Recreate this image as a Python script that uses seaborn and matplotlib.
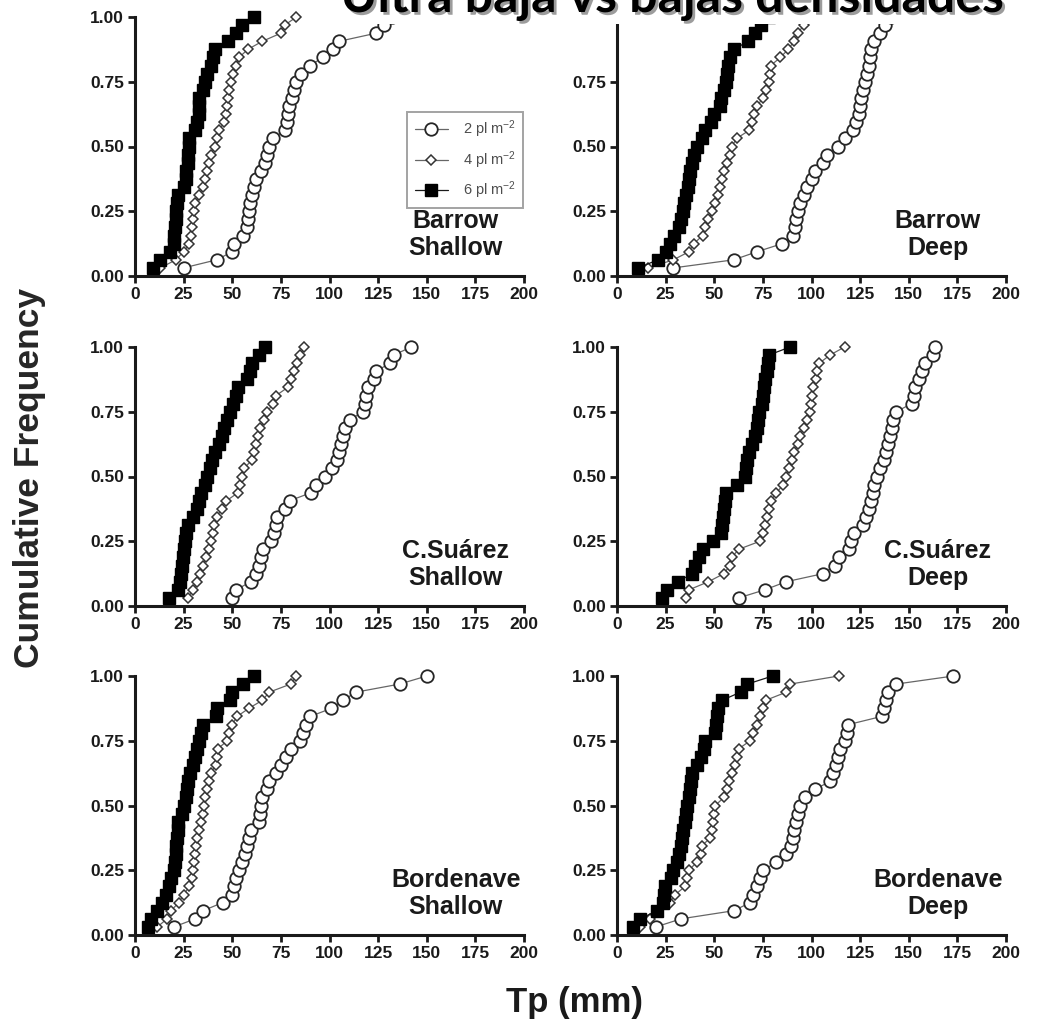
import numpy as np
import pandas as pd
import matplotlib
matplotlib.use("Agg")
import matplotlib.pyplot as plt
import matplotlib.patheffects as pe
from matplotlib.patches import Rectangle
import seaborn as sns

sns.set_theme(style="ticks")
plt.rcParams['font.family'] = ['Liberation Sans', 'DejaVu Sans']
plt.rcParams['font.weight'] = 'bold'
plt.rcParams['mathtext.fontset'] = 'custom'
plt.rcParams['mathtext.rm'] = 'Liberation Sans'
plt.rcParams['mathtext.default'] = 'regular'

densities = ['2 pl m$^{-2}$', '4 pl m$^{-2}$', '6 pl m$^{-2}$']
panels = ['Barrow\nShallow', 'Barrow\nDeep',
          'C.Suárez\nShallow', 'C.Suárez\nDeep',
          'Bordenave\nShallow', 'Bordenave\nDeep']

# Tp (mm) of each plant (sorted)
barrow_shallow_2 = [25, 42, 50, 51, 55.5, 57.5, 58, 58.5, 59, 60, 61, 62, 65, 67, 68, 69, 71, 77, 78, 78.5,
                    79, 80.5, 81.5, 83, 85.5, 90, 96.5, 102, 105, 124, 128, 132]
barrow_shallow_4 = [13, 21, 25, 28, 29, 29.5, 30, 30.5, 31, 33, 35, 36, 37, 38, 39, 41, 42, 43, 46, 47,
                    47.5, 48, 48.5, 49.5, 50.5, 52, 53.5, 58, 65.5, 75, 77, 83]
barrow_shallow_6 = [9, 13, 18, 20, 20, 20.5, 21, 21, 21.5, 22, 25, 26, 26, 27, 27, 28, 28, 31, 32, 33,
                    33, 33, 35, 36, 37, 39, 40, 41, 48, 52, 55, 61]

barrow_deep_2 = [29, 60, 72, 85, 90.5, 91.5, 92, 93, 94, 96, 97.5, 100, 102, 106, 108, 113.5, 117, 121.5,
                 123, 124.5, 125, 125.5, 126.5, 127.5, 128.5, 129.5, 130, 130.5, 132, 135, 138, 141]
barrow_deep_4 = [16, 29, 37, 39.5, 44, 45.5, 47, 49, 50.5, 52, 53, 54, 55, 56.5, 58, 59, 61.5, 68, 69.5,
                 70.5, 72, 75, 76.5, 78, 78.5, 79, 84, 88, 91, 93, 96, 99]
barrow_deep_6 = [11, 21, 25, 27, 29.5, 32, 33, 34, 34.5, 35.5, 36.5, 37, 37.5, 38.5, 39.5, 41, 43.5, 45,
                 48.5, 50, 53, 53.5, 55, 56, 56.5, 57, 58, 60, 67.5, 71, 74, 78]

suarez_shallow_2 = [50, 52, 59.5, 62, 64, 65, 66, 70, 71.5, 72.5, 73, 77, 79.5, 90.5, 93, 97.5, 101.5, 104,
                    105, 106, 107, 108, 110.5, 117, 118, 119, 120, 123, 124, 131, 133, 142]
suarez_shallow_4 = [27, 30, 32, 33.5, 35, 36.5, 38, 39, 40, 40.5, 42, 44.5, 47, 53, 54, 55, 56, 60, 61, 62,
                    63, 64.5, 66.5, 68, 71, 72.5, 78.5, 80, 82, 83.5, 85, 87]
suarez_shallow_6 = [17.5, 22, 23, 23.5, 24, 24.5, 25, 25.5, 26, 27, 30, 32, 33, 34, 36, 37, 38.5, 39.5, 41,
                    43, 44.5, 46, 47.5, 49, 50.5, 52, 53, 57.5, 59, 60, 64, 67]

suarez_deep_2 = [62.5, 76, 87, 106, 112, 114, 119.5, 120.5, 122, 126.5, 128, 129.5, 130.5, 131.5, 132, 133.5,
                 135, 137.5, 138.5, 139.5, 140.5, 141.5, 142, 143.5, 151.5, 152.5, 153, 155.5, 157, 158.5,
                 162.5, 163.5]
suarez_deep_4 = [35.5, 37, 47, 55, 58, 59, 62.5, 73.5, 75, 76, 77, 78, 79, 82, 85.5, 87, 88.5, 90, 91, 93,
                 94, 96, 97.5, 99, 99.5, 100, 101, 102.5, 103, 104, 109.5, 117]
suarez_deep_6 = [23, 25.5, 31.5, 38.5, 40, 42, 44, 49.5, 53.5, 54, 54.5, 55, 55.5, 56, 61.5, 66, 66.5, 67,
                 68, 69.5, 71, 72, 72.5, 73, 74.5, 75, 75.5, 76, 77, 77.5, 78, 89]

bordenave_shallow_2 = [20, 31, 35, 45, 50, 51, 52, 53.5, 55, 56.5, 57.5, 58.5, 59.5, 64, 64.5, 65, 65.5, 68,
                       69, 72.5, 75, 77.5, 80, 85, 86.5, 88, 90, 101, 107, 113.5, 136, 150]
bordenave_shallow_4 = [11.5, 16.5, 18.5, 22.5, 25, 28, 29.5, 30, 30.5, 31, 31.5, 32, 33, 34, 35, 35.5, 36,
                       37, 38, 39, 41.5, 42, 42.5, 47.5, 48.5, 50, 52.5, 58.5, 65.5, 69, 80, 83]
bordenave_shallow_6 = [6.5, 8, 11.5, 14, 16, 17.5, 18.5, 20, 20.5, 21, 21, 21.5, 22, 22, 24, 25, 26, 26.5,
                       27, 28.5, 30, 31, 32, 33, 34, 35, 41.5, 42, 49, 50, 55.5, 61]

bordenave_deep_2 = [20, 33, 60, 68.5, 70, 72, 73.5, 75, 82, 87, 89.5, 90.5, 91, 92, 93, 94, 96.5, 102, 109.5,
                    111, 112.5, 113.5, 114.5, 117, 118, 119, 136, 137.5, 138.5, 139.5, 143.5, 173]
bordenave_deep_4 = [12, 17, 21, 27, 30, 35, 36, 37, 41, 43, 43.5, 48, 49, 49.5, 50, 50.5, 55, 56.5, 57.5,
                    59, 60.5, 61.5, 62.5, 68.5, 70, 72, 73.5, 75, 76.5, 87, 89, 114]
bordenave_deep_6 = [8, 12, 20.5, 23.5, 24, 24.5, 28, 29, 31, 32, 33, 33.5, 34, 35, 35.5, 36, 37, 37.5, 38,
                    38.5, 41, 43, 44.5, 45, 50.5, 51, 51.5, 52, 54, 63.5, 67, 80]

series = {
    panels[0]: [barrow_shallow_2, barrow_shallow_4, barrow_shallow_6],
    panels[1]: [barrow_deep_2, barrow_deep_4, barrow_deep_6],
    panels[2]: [suarez_shallow_2, suarez_shallow_4, suarez_shallow_6],
    panels[3]: [suarez_deep_2, suarez_deep_4, suarez_deep_6],
    panels[4]: [bordenave_shallow_2, bordenave_shallow_4, bordenave_shallow_6],
    panels[5]: [bordenave_deep_2, bordenave_deep_4, bordenave_deep_6],
}

rows = []
for panel, lists in series.items():
    for dens, values in zip(densities, lists):
        for v in values:
            rows.append((panel, dens, v))
df = pd.DataFrame(rows, columns=['panel', 'density', 'tp'])
df = df.sort_values(['panel', 'density', 'tp'], kind='stable')
grp = df.groupby(['panel', 'density'])
df['cum_freq'] = (grp.cumcount() + 1) / grp['tp'].transform('size')

styles = {
    densities[0]: dict(marker='o', markersize=9, markerfacecolor='white', markeredgecolor='0.15',
                       markeredgewidth=1.3, color='0.4'),
    densities[1]: dict(marker='D', markersize=5.2, markerfacecolor='white', markeredgecolor='0.2',
                       markeredgewidth=1.1, color='0.4'),
    densities[2]: dict(marker='s', markersize=8, markerfacecolor='black', markeredgecolor='black',
                       markeredgewidth=1, color='0.1'),
}

W, H = 1045, 1027
fig = plt.figure(figsize=(W / 100, H / 100), dpi=100)
col_x = [135, 617]
row_y0 = [276, 606, 935]
axw, axh = 389, 259

for i, panel in enumerate(panels):
    r, c = divmod(i, 2)
    ax = fig.add_axes([col_x[c] / W, (H - row_y0[r]) / H, axw / W, axh / H])
    sub = df[df['panel'] == panel]
    for dens in densities:
        d = sub[sub['density'] == dens]
        sns.lineplot(data=d, x='tp', y='cum_freq', ax=ax, estimator=None, linewidth=0.9,
                     label=dens, clip_on=False, **styles[dens])
    ax.set_xlim(0, 200)
    ax.set_ylim(0, 1)
    ax.set_xticks(np.arange(0, 201, 25))
    ax.set_yticks([0, 0.25, 0.5, 0.75, 1.0])
    ax.set_yticklabels(['0.00', '0.25', '0.50', '0.75', '1.00'])
    ax.set_xlabel('')
    ax.set_ylabel('')
    sns.despine(ax=ax)
    for s in ['left', 'bottom']:
        ax.spines[s].set_linewidth(2.2)
        ax.spines[s].set_color('0.1')
    ax.tick_params(direction='out', length=5, width=2, labelsize=12.5, pad=3, colors='0.1')
    ax.text(165, 0.16, panel, ha='center', va='center', fontsize=18, fontweight='bold',
            color='0.1', linespacing=1.12)
    if i == 0:
        leg = ax.legend(loc='upper left', bbox_to_anchor=(0.70, 0.635), borderaxespad=0,
                        frameon=True, fancybox=False, edgecolor='0.55',
                        prop={'weight': 'normal', 'size': 10.5}, labelspacing=0.6,
                        handlelength=2.3, handletextpad=1.0, borderpad=0.5)
        leg.get_frame().set_linewidth(1.4)
        for t in leg.get_texts():
            t.set_color('0.3')
    else:
        ax.get_legend().remove()

fig.text(30 / W, 1 - 478 / H, 'Cumulative Frequency', rotation=90, ha='center', va='center',
         fontsize=25.5, fontweight='bold', color='0.15')
fig.text(574 / W, 1 - 1012 / H, 'Tp (mm)', ha='center', va='baseline',
         fontsize=25, fontweight='bold', color='0.1')

# white strip behind the title that hides the top of the upper panels
fig.add_artist(Rectangle((330 / W, 1 - 24 / H), (W - 330) / W, 24 / H, transform=fig.transFigure,
                         facecolor='white', edgecolor='none', zorder=5))
fig.text(672 / W, 1 - 12 / H, 'Ultra baja vs bajas densidades', ha='center', va='baseline',
         fontsize=36, fontweight='bold', family=['Lato', 'DejaVu Sans'], color='black', zorder=6,
         path_effects=[pe.withSimplePatchShadow(offset=(2, -2), shadow_rgbFace='0.45', alpha=0.7)])

fig.savefig('out.png', dpi=100, facecolor='white')
